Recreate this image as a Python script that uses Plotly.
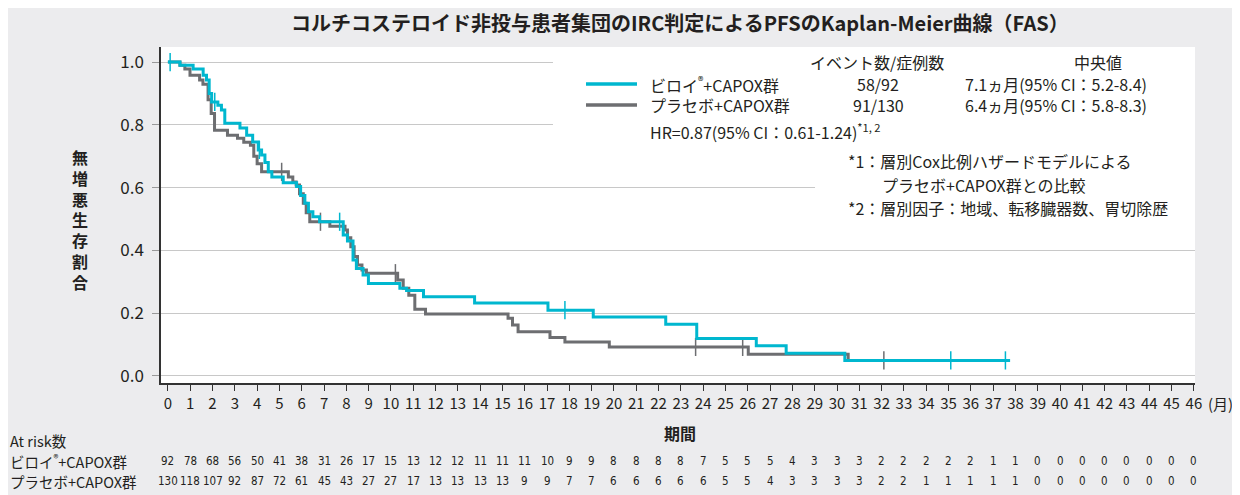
import plotly.graph_objects as go
import numpy as np

# ---------------- data ----------------
title_text = "コルチコステロイド非投与患者集団のIRC判定によるPFSのKaplan-Meier曲線（FAS）"
arm_names = ["ビロイ<sup>®</sup>+CAPOX群", "プラセボ+CAPOX群"]
event_counts = ["58/92", "91/130"]
medians = ["7.1ヵ月(95% CI：5.2-8.4)", "6.4ヵ月(95% CI：5.8-8.3)"]

zolbe_t = [0, 0.54, 1.13, 1.58, 1.73, 1.85, 1.96, 2.24, 2.40, 2.55, 3.23, 3.53, 3.80, 4.05, 4.20,
           4.35, 4.50, 4.66, 5.17, 5.77, 5.95, 6.14, 6.30, 6.50, 6.80, 7.86, 8.05, 8.30, 8.45, 8.75,
           8.99, 10.40, 10.70, 11.46, 13.75, 17.04, 19.07, 22.32, 23.71, 26.38, 27.72, 30.35, 37.76]
zolbe_s = [1.0, 0.990, 0.978, 0.958, 0.943, 0.900, 0.873, 0.862, 0.847, 0.805, 0.790, 0.767, 0.745,
           0.720, 0.704, 0.680, 0.650, 0.634, 0.615, 0.603, 0.575, 0.550, 0.523, 0.507, 0.491, 0.449,
           0.430, 0.369, 0.342, 0.321, 0.294, 0.279, 0.272, 0.252, 0.232, 0.209, 0.187, 0.164, 0.119,
           0.096, 0.072, 0.049, 0.049]
zolbe_cens = [0.1, 2.1, 4.1, 7.7, 17.8, 35.1, 37.55]

plac_t = [0, 0.54, 0.76, 0.99, 1.42, 1.57, 1.80, 1.94, 2.09, 2.67, 3.12, 3.40, 3.70, 3.85, 4.00,
          4.20, 5.40, 5.60, 5.75, 5.90, 6.07, 6.20, 6.36, 7.26, 7.94, 8.05, 8.20, 8.35, 8.50, 8.70,
          8.90, 10.30, 10.55, 10.80, 11.07, 11.55, 15.25, 15.45, 15.70, 17.13, 17.80, 19.79, 26.02,
          30.50, 32.10]
plac_s = [1.0, 0.990, 0.978, 0.958, 0.943, 0.929, 0.880, 0.836, 0.783, 0.767, 0.757, 0.744, 0.735,
          0.700, 0.676, 0.650, 0.634, 0.618, 0.608, 0.580, 0.550, 0.520, 0.491, 0.477, 0.465, 0.440,
          0.411, 0.380, 0.353, 0.337, 0.327, 0.305, 0.279, 0.257, 0.212, 0.197, 0.183, 0.162, 0.140,
          0.122, 0.108, 0.092, 0.069, 0.049, 0.049]
plac_cens = [5.1, 6.84, 10.2, 23.66, 25.77, 32.1]

months = list(range(0, 47))
risk_zolbe = [92, 78, 68, 56, 50, 41, 38, 31, 26, 17, 15, 13, 12, 12, 11, 11, 11, 10, 9, 9, 8,
              8, 8, 8, 7, 5, 5, 5, 4, 3, 3, 3, 2, 2, 2, 2, 2, 1, 1, 0, 0, 0, 0, 0, 0, 0, 0]
risk_plac = [130, 118, 107, 92, 87, 72, 61, 45, 43, 27, 27, 17, 13, 13, 13, 13, 9, 9, 7, 7, 6,
             6, 6, 6, 6, 5, 5, 4, 3, 3, 3, 3, 2, 2, 1, 1, 1, 1, 1, 0, 0, 0, 0, 0, 0, 0, 0]
y_ticks = [0.0, 0.2, 0.4, 0.6, 0.8, 1.0]
y_ticktext = ["0.0", "0.2", "0.4", "0.6", "0.8", "1.0"]
y_title = "無増悪生存割合"

# ---------------- style ----------------
CYAN = "#00b7cf"
GRAY = "#6d6e71"
BG = "#ececee"
TXT = "#231f20"
JP = "Noto Sans CJK JP, Noto Sans, sans-serif"
NARROW = "Liberation Sans Narrow, DejaVu Sans Condensed, Noto Sans CJK JP, sans-serif"
OFF = 8                       # page body margin of the html page
W, H = 1240 - OFF, 495 - OFF
L, T = 161 - OFF, 47 - OFF    # plot area left / top (page pixels 161, 47)
R, B = 1240 - 1195, 495 - 383
PW, PH = W - L - R, H - T - B


def px(p):
    return (p - OFF - L) / PW


def py(p):
    return (H - B - (p - OFF)) / PH


def surv_at(times, surv, t):
    i = np.searchsorted(np.array(times), t, side="right") - 1
    return surv[i]


fig = go.Figure()
for t, s, cens, col in [(plac_t, plac_s, plac_cens, GRAY), (zolbe_t, zolbe_s, zolbe_cens, CYAN)]:
    fig.add_trace(go.Scatter(x=t, y=s, mode="lines", line=dict(color=col, width=3, shape="hv"),
                             showlegend=False, hoverinfo="skip"))
    fig.add_trace(go.Scatter(x=cens, y=[surv_at(t, s, c) for c in cens], mode="markers",
                             marker=dict(symbol="line-ns", size=13, line=dict(color=col, width=1.5)),
                             showlegend=False, hoverinfo="skip"))

# white boxes hiding gridlines behind the legend block
x_at = lambda p: (p - 168) / 22.3
fig.add_shape(type="rect", xref="x", yref="y", x0=x_at(553), x1=46.05, y0=0.66, y1=1.048,
              fillcolor="white", line_width=0, layer="between")
fig.add_shape(type="rect", xref="x", yref="y", x0=x_at(815), x1=46.05, y0=0.45, y1=0.66,
              fillcolor="white", line_width=0, layer="between")

ann = []


def text(x, y, s, size=16, anchor="left", family=JP, ref_x="paper", bold=False):
    f = dict(size=size, family=family, color=TXT)
    if bold:
        f["weight"] = "bold"
    ann.append(dict(x=x, y=y, xref=ref_x, yref="paper", text=s, showarrow=False,
                    xanchor=anchor, yanchor="middle", font=f))


# title
text(px(680), py(22), title_text, size=20, anchor="center", bold=True)

# legend block
text(px(877), py(62), "イベント数/症例数", anchor="center")
text(px(1098), py(62), "中央値", anchor="center")
for i, (nm, ev, md, col) in enumerate(zip(arm_names, event_counts, medians, [CYAN, GRAY])):
    yy = 84 + 21 * i
    fig.add_shape(type="line", xref="paper", yref="paper", x0=px(586), x1=px(637), y0=py(yy), y1=py(yy),
                  line=dict(color=col, width=3.5))
    text(px(648), py(yy), nm)
    text(px(878), py(yy), ev, anchor="center")
    text(px(963), py(yy), md)
text(px(648), py(131), "HR=0.87(95% CI：0.61-1.24)<sup>*1, 2</sup>")
text(px(846), py(161), "*1：層別Cox比例ハザードモデルによる")
text(px(880), py(185), "プラセボ+CAPOX群との比較")
text(px(846), py(208), "*2：層別因子：地域、転移臓器数、胃切除歴")

# axis titles (y title: upright characters stacked vertically)
text(px(80), py(219), "<br>".join(list(y_title)), size=16, anchor="center", bold=True)
text(px(680), py(433), "期間", size=16, anchor="center", bold=True)
text(px(1206), py(403), "(月)", size=15)

# at-risk table
text(px(8), py(440), "At risk数", size=14.5)
text(px(8), py(461), arm_names[0], size=14.5)
text(px(8), py(481), arm_names[1], size=14.5)
for m, a, b in zip(months, risk_zolbe, risk_plac):
    text(m, py(461), str(a), size=11.5, anchor="center", family=NARROW, ref_x="x")
    text(m, py(481), str(b), size=11.5, anchor="center", family=NARROW, ref_x="x")

fig.update_layout(
    width=W, height=H, margin=dict(l=L, r=R, t=T, b=B),
    paper_bgcolor=BG, plot_bgcolor="white",
    annotations=ann,
    font=dict(family=JP, color=TXT),
)
fig.update_xaxes(range=[-0.31, 46.05], tickvals=months, ticks="outside", ticklen=6, tickcolor="#333",
                 showline=True, linecolor="#333", linewidth=1.5, showgrid=False, zeroline=False,
                 tickfont=dict(size=15, family=JP, color=TXT))
fig.update_yaxes(range=[-0.023, 1.048], tickvals=y_ticks, ticktext=y_ticktext, ticks="outside", ticklen=7,
                 tickcolor="#999", showline=True, linecolor="#333", linewidth=1.5, showgrid=True,
                 gridcolor="#c8c8c8", gridwidth=1.3, zeroline=False, ticklabelstandoff=5,
                 tickfont=dict(size=17, family=JP, color=TXT))

fig.write_html("out.html")
